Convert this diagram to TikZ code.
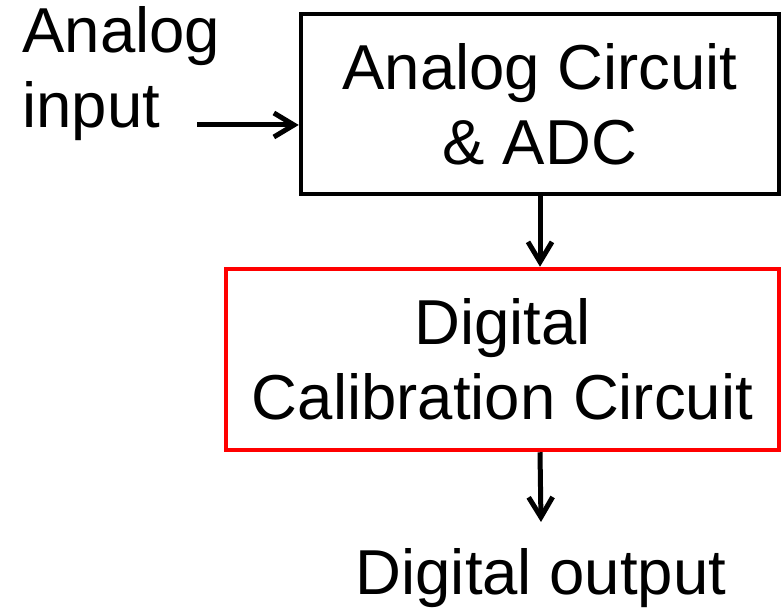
\documentclass[tikz,border=0pt]{standalone}
\usepackage{fontspec}
\setmainfont{Liberation Sans}
\usetikzlibrary{arrows.meta}

\begin{document}
\begin{tikzpicture}[x=0.5pt,y=-0.5pt,
  every node/.style={font=\fontsize{31.75}{37.5}\selectfont},
  block/.style={draw,line width=2.25pt,align=center,inner sep=0pt},
  arr/.style={line width=2.5pt,-{Straight Barb[length=10pt,width=12pt,line width=2.5pt]}}]
  \useasboundingbox (0,0) rectangle (782,608);
  \node[block,minimum width=239pt,minimum height=90pt] (adc) at (540,104) {Analog Circuit\\\& ADC};
  \node[block,draw=red,minimum width=276.5pt,minimum height=90.5pt] (cal) at (502.5,359.5) {Digital\\Calibration Circuit};
  \node[anchor=north west,align=left,inner sep=0pt] (ain) at (22,6) {Analog\\input};
  \coordinate (in) at (197,125);
  \coordinate (out) at (541,522);
  \node[anchor=base] (dout) at (541,595) {Digital output};
  \draw[arr] (in) -- (in -| adc.west);
  \draw[arr] (adc.south) -- (adc.south |- cal.north);
  \draw[arr] (cal.south -| adc.south) -- (out);
\end{tikzpicture}
\end{document}
